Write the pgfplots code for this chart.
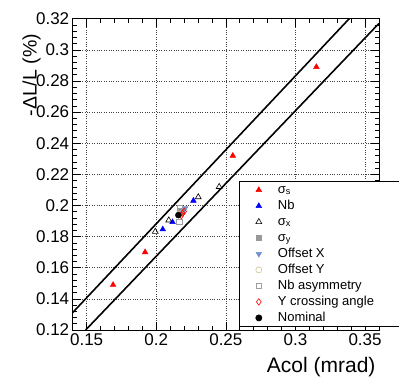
\documentclass[border=0pt]{standalone}
\usepackage{fontspec}
\setmainfont{Liberation Sans}
\usepackage{pgfplots}
\pgfplotsset{compat=1.18}
\definecolor{RootRed}{HTML}{FF0000}
\definecolor{RootBlue}{HTML}{0000FF}
\definecolor{SigY}{HTML}{999999}
\definecolor{OffX}{HTML}{7090D0}
\definecolor{OffY}{HTML}{CCC699}
\definecolor{NbAsym}{HTML}{A0A0A0}

\pgfplotsset{
  rootmark/.style={only marks,
    legend image code/.code={\path (0pt,0pt) (12pt,0pt);
      \draw[##1] plot coordinates {(6pt,0pt)};}},
}

\begin{document}
\begin{tikzpicture}
\useasboundingbox (0,0) rectangle (399pt,384pt);
\begin{axis}[
  at={(72.7pt,54pt)}, anchor=south west,
  scale only axis, width=306.3pt, height=311.3pt,
  xmin=0.14, xmax=0.36, ymin=0.12, ymax=0.32,
  xtick={0.15,0.2,0.25,0.3,0.35},
  ytick={0.12,0.14,0.16,0.18,0.2,0.22,0.24,0.26,0.28,0.3,0.32},
  minor x tick num=4, minor y tick num=4,
  tick align=inside,
  major tick length=8.5pt, minor tick length=4.5pt,
  every tick/.style={black, line width=0.6pt},
  axis line style={line width=0.8pt},
  grid=major, major grid style={black!75, dotted, line width=0.6pt},
  /pgf/number format/assume math mode=true,
  /pgf/number format/fixed, /pgf/number format/precision=2,
  ticklabel style={font=\fontsize{17}{20}\selectfont},
  xlabel={Acol (mrad)},
  ylabel={-ΔL/L (\%)},
  xlabel style={font=\fontsize{21}{24}\selectfont,
    at={(axis description cs:1,-0.137)}, anchor=base east},
  ylabel style={font=\fontsize{19.5}{22}\selectfont,
    at={(axis description cs:-0.1175,0.962)}, anchor=base east},
  legend cell align=left,
  legend style={at={(0.543,0.4786)}, anchor=north west, draw=black,
    line width=0.8pt, fill=white, font=\fontsize{13}{15}\selectfont,
    inner xsep=13pt, inner ysep=2.25pt, row sep=3.5pt, column sep=12.7pt,
    nodes={inner sep=0pt, text height=9.5pt, text depth=3pt}},
]
% fitted bands
\addplot[black, line width=1.6pt, forget plot] coordinates {(0.14,0.1312) (0.3386,0.32)};
\addplot[black, line width=1.6pt, forget plot] coordinates {(0.1493,0.12) (0.36,0.317)};

\addplot[rootmark, mark=triangle*, mark size=3.2pt,
  mark options={draw=RootRed, fill=RootRed, line width=0.5pt}] coordinates {
  (0.169,0.149) (0.192,0.170) (0.255,0.232) (0.315,0.289)};
\addlegendentry{\makebox[112pt][l]{σ\textsubscript{s}}}

\addplot[rootmark, mark=triangle*, mark size=3.2pt,
  mark options={draw=RootBlue, fill=RootBlue, line width=0.5pt}] coordinates {
  (0.2047,0.1847) (0.2117,0.1893) (0.2267,0.2031)};
\addlegendentry{Nb}

\addplot[rootmark, mark=triangle, mark size=3.4pt,
  mark options={draw=black, line width=0.6pt}] coordinates {
  (0.1993,0.1832) (0.2090,0.1905) (0.2302,0.2054) (0.2452,0.2120)};
\addlegendentry{σ\textsubscript{x}}

\addplot[rootmark, mark=square*, mark size=2.6pt,
  mark options={draw=SigY, fill=SigY, line width=0.5pt}] coordinates {
  (0.2170,0.1968) (0.2185,0.1958)};
\addlegendentry{σ\textsubscript{y}}

\addplot[rootmark, mark=triangle*, mark size=3.2pt,
  mark options={draw=OffX, fill=OffX, rotate=180, line width=0.5pt}] coordinates {
  (0.2207,0.1982) (0.2190,0.1962)};
\addlegendentry{Offset X}

\addplot[rootmark, mark=o, mark size=3pt,
  mark options={draw=OffY, line width=0.6pt}] coordinates {
  (0.2165,0.1942) (0.2172,0.1948)};
\addlegendentry{Offset Y}

\addplot[rootmark, mark=square, mark size=2.8pt,
  mark options={draw=NbAsym, line width=0.6pt}] coordinates {
  (0.2166,0.1895) (0.2168,0.1985)};
\addlegendentry{Nb asymmetry}

\addplot[rootmark, mark=diamond, mark size=3.2pt,
  mark options={draw=RootRed, line width=0.6pt}] coordinates {
  (0.2190,0.1950) (0.2180,0.1935) (0.2200,0.1962)};
\addlegendentry{Y crossing angle}

\addplot[rootmark, mark=*, mark size=3pt,
  mark options={draw=black, fill=black}] coordinates {
  (0.2159,0.1938)};
\addlegendentry{Nominal}
\end{axis}
\end{tikzpicture}
\end{document}
